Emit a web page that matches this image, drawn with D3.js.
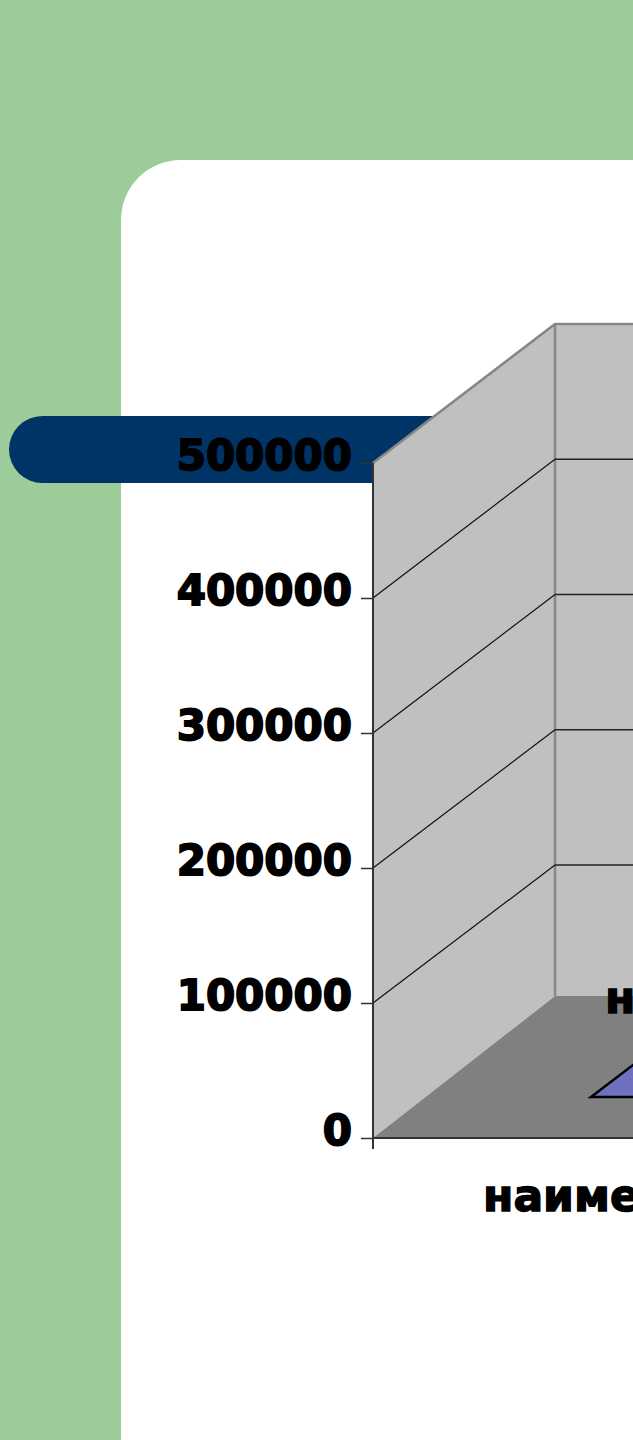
<!DOCTYPE html>
<html>
<head>
<meta charset="utf-8">
<script src="https://cdn.jsdelivr.net/npm/d3@7"></script>
<style>
  html, body { margin: 0; padding: 0; background: #9ccc9a; overflow: hidden; }
  svg { display: block; }
  text { font-family: "DejaVu Sans", sans-serif; font-weight: 700; fill: #000; }
</style>
</head>
<body>
<div id="chart"></div>
<script>
const width = 633, height = 1440;

const yTicks = [0, 100000, 200000, 300000, 400000, 500000];
const categories = ['наименование'];
const values = [82000];
const dataLabels = ['наименование'];

const svg = d3.select('#chart').append('svg')
  .attr('width', width)
  .attr('height', height);

// slide background
svg.append('path')
  .attr('fill', '#fff')
  .attr('d', 'M121,1440V220A60,60 0 0 1 181,160H633V1440Z');

svg.append('path')
  .attr('fill', '#003366')
  .attr('d', 'M42.5,416H440V483H42.5A33.5,33.5 0 0 1 42.5,416Z');

// front and back planes of the 3d box
const y = d3.scaleLinear().domain([0, 500000]).range([1138, 463]);
const yBack = d3.scaleLinear().domain([100000, 500000]).range([865, 324]);
const floorBack = 996;
const xFront = 373, xBack = 555;

const x = d3.scaleBand().domain(categories).range([xFront, 1100]);

const line = d3.line();

// side wall
svg.append('path')
  .attr('fill', '#c0c0c0')
  .attr('d', line([[xFront, y(0)], [xFront, y(500000)], [xBack, yBack(500000)], [xBack, floorBack]]) + 'Z');

// back wall
svg.append('rect')
  .attr('x', xBack).attr('y', yBack(500000))
  .attr('width', width - xBack).attr('height', floorBack - yBack(500000))
  .attr('fill', '#c0c0c0');

// floor
svg.append('path')
  .attr('fill', '#808080')
  .attr('d', line([[xFront, y(0)], [xBack, floorBack], [width, floorBack], [width, y(0)]]) + 'Z');

// wall outlines
svg.append('path')
  .attr('fill', 'none')
  .attr('stroke', '#868686')
  .attr('stroke-width', 2.5)
  .attr('d', line([[xFront, y(500000)], [xBack, yBack(500000)], [width, yBack(500000)]]));

svg.append('line')
  .attr('x1', xBack).attr('x2', xBack)
  .attr('y1', yBack(500000)).attr('y2', floorBack)
  .attr('stroke', '#868686')
  .attr('stroke-width', 2.5);

// gridlines
const grid = yTicks.filter((d) => d > 0 && d < 500000);

svg.selectAll('.grid-side')
  .data(grid)
  .enter().append('line')
  .attr('class', 'grid-side')
  .attr('x1', xFront).attr('y1', (d) => y(d))
  .attr('x2', xBack).attr('y2', (d) => yBack(d))
  .attr('stroke', '#111')
  .attr('stroke-width', 1.2);

svg.selectAll('.grid-back')
  .data(grid)
  .enter().append('line')
  .attr('class', 'grid-back')
  .attr('x1', xBack).attr('x2', width)
  .attr('y1', (d) => yBack(d)).attr('y2', (d) => yBack(d))
  .attr('stroke', '#222')
  .attr('stroke-width', 1.5);

// pyramid, runs off the right edge
const pyramidY = y(0) - 41;
const pyramidLeft = 591;
const apexX = x(categories[0]) + x.bandwidth() / 2;
svg.selectAll('.pyramid')
  .data(values)
  .enter().append('path')
  .attr('class', 'pyramid')
  .attr('fill', '#7070c0')
  .attr('stroke', '#000')
  .attr('stroke-width', 2.5)
  .attr('stroke-linejoin', 'miter')
  .attr('d', (d) => {
    const top = pyramidY - (y(0) - y(d));
    return line([[pyramidLeft, pyramidY], [apexX, top], [2 * apexX - pyramidLeft, pyramidY]]) + 'Z';
  });

// data label
svg.selectAll('.data-label')
  .data(dataLabels)
  .enter().append('text')
  .attr('class', 'data-label')
  .attr('x', 605)
  .attr('y', 1013)
  .attr('font-size', 44)
  .attr('stroke', '#000')
  .attr('stroke-width', 1.4)
  .text((d) => d);

// value axis
const yAxis = svg.append('g')
  .attr('class', 'axis axis-y')
  .attr('transform', 'translate(' + xFront + ',0)')
  .call(d3.axisLeft(y).tickValues(yTicks).tickFormat(d3.format('d')).tickSize(12).tickPadding(9));

yAxis.select('.domain')
  .attr('stroke', '#333')
  .attr('stroke-width', 2)
  .attr('d', 'M0,' + y(500000) + 'V' + (y(0) + 11));

yAxis.selectAll('.tick line')
  .attr('stroke', '#333')
  .attr('stroke-width', 1.5);

yAxis.selectAll('.tick text')
  .attr('font-family', '"DejaVu Sans", sans-serif')
  .attr('font-weight', 700)
  .attr('font-size', 42)
  .attr('fill', '#000')
  .attr('stroke', '#000')
  .attr('stroke-width', 1.8)
  .attr('dy', '0.16em');

// category axis
svg.append('line')
  .attr('x1', xFront).attr('x2', width)
  .attr('y1', y(0)).attr('y2', y(0))
  .attr('stroke', '#333')
  .attr('stroke-width', 2);

svg.append('text')
  .attr('class', 'axis-label')
  .attr('x', 483)
  .attr('y', 1211)
  .attr('font-size', 44)
  .attr('stroke', '#000')
  .attr('stroke-width', 1.4)
  .text(categories[0]);
</script>
</body>
</html>
